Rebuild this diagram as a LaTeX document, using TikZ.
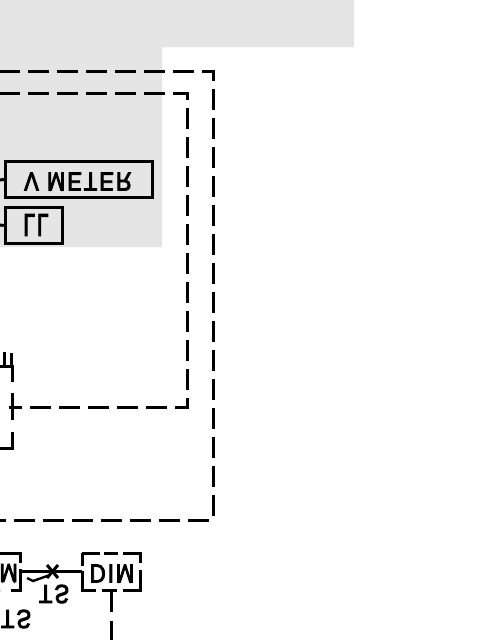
\documentclass[tikz,border=0pt]{standalone}
\usepackage{fontspec}
\newfontfamily\cad{Liberation Sans}[FakeStretch=0.84,LetterSpace=8,FakeBold=3.5]
\tikzset{
  x=1pt,y=-1pt,
  wire/.style={line width=3pt,black,line join=miter},
  dashwire/.style={wire,dash pattern=on 21pt off 8pt},
  devbox/.style={draw=black,line width=3pt,fill=none,inner sep=0pt,minimum height=36.5pt},
  flip/.style={yscale=-1,transform shape,inner sep=0pt,font=\fontsize{26}{26}\cad},
  fliptall/.style={flip,yscale=1.2,xscale=.95}
}
\begin{document}
\begin{tikzpicture}
\useasboundingbox (0,0) rectangle (480,640);
\fill[white] (0,0) rectangle (480,640);
\fill[black!10] (0,0) -| (354,47) -| (162,247) -| (0,0) -- cycle;
% free ends
\coordinate (o1) at (0,71); \coordinate (o2) at (213,71); \coordinate (o3) at (213,520); \coordinate (o4) at (0,520);
\coordinate (i1) at (0,93); \coordinate (i2) at (187,93); \coordinate (i3) at (187,407); \coordinate (i4) at (9,407);
\draw[dashwire,dash phase=1pt] (o1) -- (o2) -- (o3) -- (o4);
\draw[dashwire,dash phase=1pt] (i1) -- (i2) -- (i3) -- (i4);
% meter boxes
\node[devbox,minimum width=147pt] (vm) at (79,179.5) {};
\node[flip] (vmt) at (78,181.5) {V METER};
\node[devbox,minimum width=57.5pt] (ll) at (34,225.5) {};
\node[fliptall] (llt) at (36,225) {LL};
\coordinate (a1) at (0,180); \coordinate (a2) at (0,225);
\draw[wire] (a1) -- (vm.west);
\draw[wire] (a2) -- (ll.west);
% left box
\coordinate (b1) at (0,366); \coordinate (b2) at (12,366); \coordinate (b3) at (12,448); \coordinate (b4) at (0,448);
\draw[wire,dash pattern=on 28pt off 11pt on 27pt off 12pt on 40pt] (b1) -- (b2) -- (b3) -- (b4);
\coordinate (c1) at (11,353); \coordinate (c2) at (11,366);
\draw[wire] (c1) -- (c2);
\coordinate (c3) at (4,352); \coordinate (c4) at (4,366);
\draw[wire] (c3) -- (c4);
% bottom row
\coordinate (m1) at (0,553); \coordinate (m2) at (20,553); \coordinate (m3) at (20,590); \coordinate (m4) at (0,590);
\draw[wire,dash pattern=on 30pt off 6pt on 30pt off 11pt on 20pt] (m1) -- (m2) -- (m3) -- (m4);
\node[flip,anchor=east] (mt) at (18,573) {M};
\coordinate (d1) at (82,553); \coordinate (d2) at (140,553); \coordinate (d3) at (140,590); \coordinate (d4) at (82,590);
\draw[wire,dash pattern=on 18pt off 4pt on 14pt off 5pt on 27pt off 7pt on 37pt off 6pt on 15pt off 6pt on 33pt off 5pt on 14pt] (d1) -- (d2) -- (d3) -- (d4) -- cycle;
\node[flip] (dim) at (112,573.5) {DIM};
\draw[wire] (20,571.5) coordinate (w1) -- (82,571.5) coordinate (w2);
\coordinate (x1) at (47,565); \coordinate (x2) at (58,578);
\coordinate (x3) at (47,578); \coordinate (x4) at (58,565);
\draw[wire] (x1) -- (x2);
\draw[wire] (x3) -- (x4);
\coordinate (h1) at (27,578); \coordinate (h2) at (33,581); \coordinate (h3) at (50,575);
\draw[wire,line width=2.4pt] (h1) -- (h2) -- (h3);
\node[flip] (ts1) at (54,594) {TS};
\node[flip] (ts2) at (16,619) {TS};
\coordinate (v1) at (111,590); \coordinate (v2) at (111,640);
\draw[wire,dash pattern=on 22pt off 9pt] (v1) -- (v2);
\end{tikzpicture}
\end{document}
